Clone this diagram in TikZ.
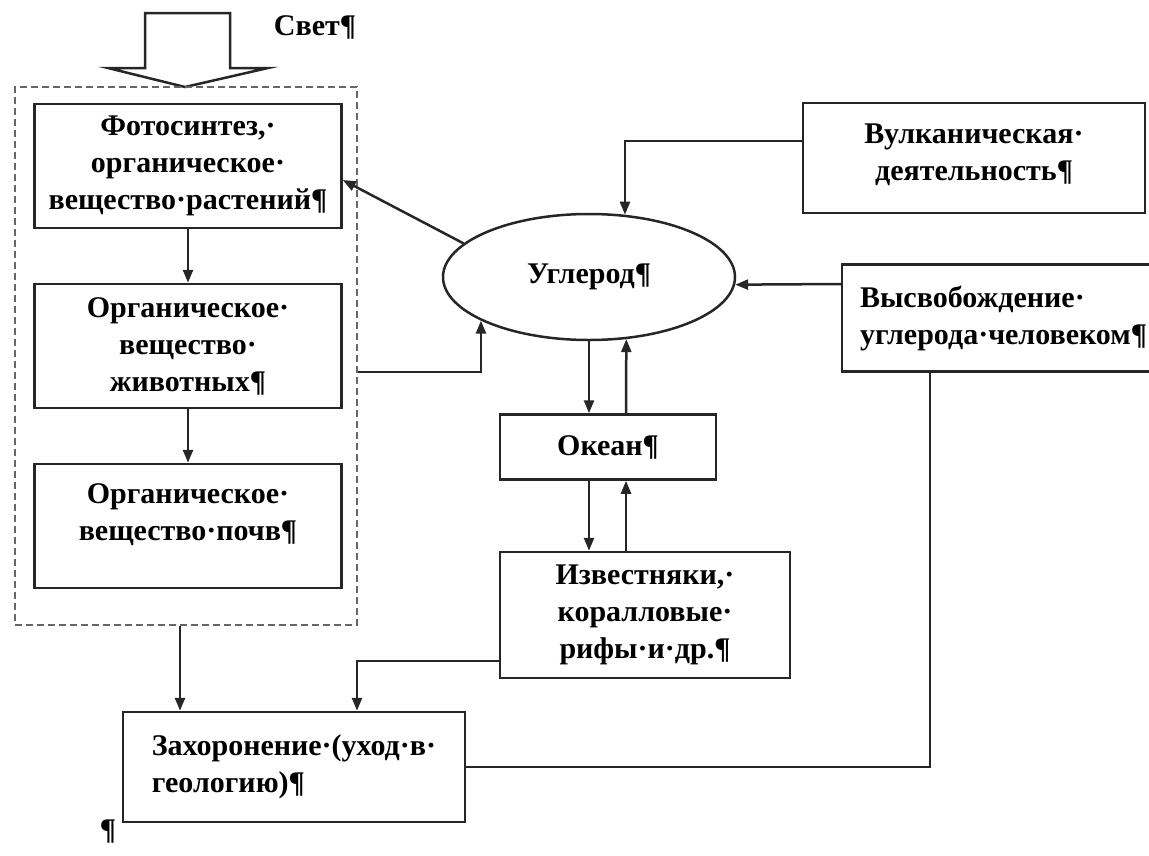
\documentclass[tikz,border=0pt]{standalone}
\usepackage{fontspec}
\setmainfont{Liberation Serif}
\usetikzlibrary{arrows.meta,positioning,chains,shapes.geometric}

\begin{document}
\begin{tikzpicture}[%
    x=1pt, y=-1pt,              % one unit is one pixel of the scheme
    >={Triangle[length=13pt,width=10pt]},
    start chain=going below,    % left column runs top to bottom
    node distance=180pt,        % centre to centre in the column
    ]
\tikzset{
  base/.style={draw=black!85, line width=2.5pt, align=center, inner sep=4pt,
    font=\bfseries\fontsize{30}{37}\selectfont},
  block/.style={base, on grid, on chain, minimum width=307pt, minimum height=124pt},
  grp/.style={draw=black!60, line width=2.5pt, dash pattern=on 7pt off 4pt},
  note/.style={inner sep=0pt, font=\bfseries\fontsize{30}{37}\selectfont},
  ar/.style={->, draw=black!85, line width=2.5pt},
  ln/.style={draw=black!85, line width=2.5pt, line join=miter}
}
    \useasboundingbox (0,0) rectangle (1149,855);
    % light falling on the plants
    \draw [ln] (145,13) -- (230,13) -- (230,68) -- (268,68) -- (185,87)
        -- (108,68) -- (145,68) -- cycle;
    \node [note] (svet) at (315,27) {Свет¶};
    \node [grp, minimum width=342pt, minimum height=538pt] (bio) at (186,356) {};
    \node [block] (fot) at (188,166) {Фотосинтез,·\\органическое·\\вещество·растений¶};
    \node [block] (anim) {Органическое·\\вещество·\\животных¶};
    \node [block] (soil) {Органическое·\\вещество·почв¶\\[-10pt]\mbox{}};
        \draw [ar] (fot) -- (anim);
        \draw [ar] (anim) -- (soil);
    \node [base, ellipse, inner sep=0pt, minimum width=292pt, minimum height=126pt] (ugl) at (589,277) {Углерод¶};
        \draw [ar] (ugl.165) -- ([yshift=-14pt]fot.east);
        \draw [ar] ([yshift=-16pt]bio.east) -| (ugl.202);
    \node [base, minimum width=342pt, minimum height=110pt] (volc) at (974,158) {Вулканическая·\\деятельность¶\\[-25pt]\mbox{}};
        \draw [ar] ([yshift=17pt]volc.west) -| (ugl.60);
    \node [base, align=left, text width=300pt, inner xsep=18pt, minimum height=107pt] (rel) at (1010,318) {Высвобождение·\\углерода·человеком¶};
        \draw [ar] ([yshift=34pt]rel.west) -- (ugl.-3);
    \node [base, minimum width=216pt, minimum height=65pt] (oce) at (608,447) {Океан¶};
        \draw [ar] (ugl.south) -- (ugl.south |- oce.north);
        \draw [ar] ([xshift=18pt]oce.north) -- (ugl.-59);
    \node [base, minimum width=290pt, minimum height=126pt] (lim) at (645,615) {Известняки,·\\коралловые·\\рифы·и·др.¶};
        \draw [ar] (ugl.south |- oce.south) -- (ugl.south |- lim.north);
        \draw [ar] ([xshift=-19pt]lim.north) -- ([xshift=18pt]oce.south);
    \node [base, align=left, minimum width=342pt, minimum height=110pt] (bur) at (294,767) {Захоронение·(уход·в·\\геологию)¶};
        \draw [ar] ([yshift=-46pt]lim.west) -| ([xshift=63pt]bur.north);
        \draw [ar] ([xshift=-6pt]bio.south) -- ([xshift=-114pt]bur.north);
        \draw [ln] ([xshift=-80pt]rel.south) |- (bur.east);
    \node [note] (pil) at (108,832) {¶};
\end{tikzpicture}
\end{document}
